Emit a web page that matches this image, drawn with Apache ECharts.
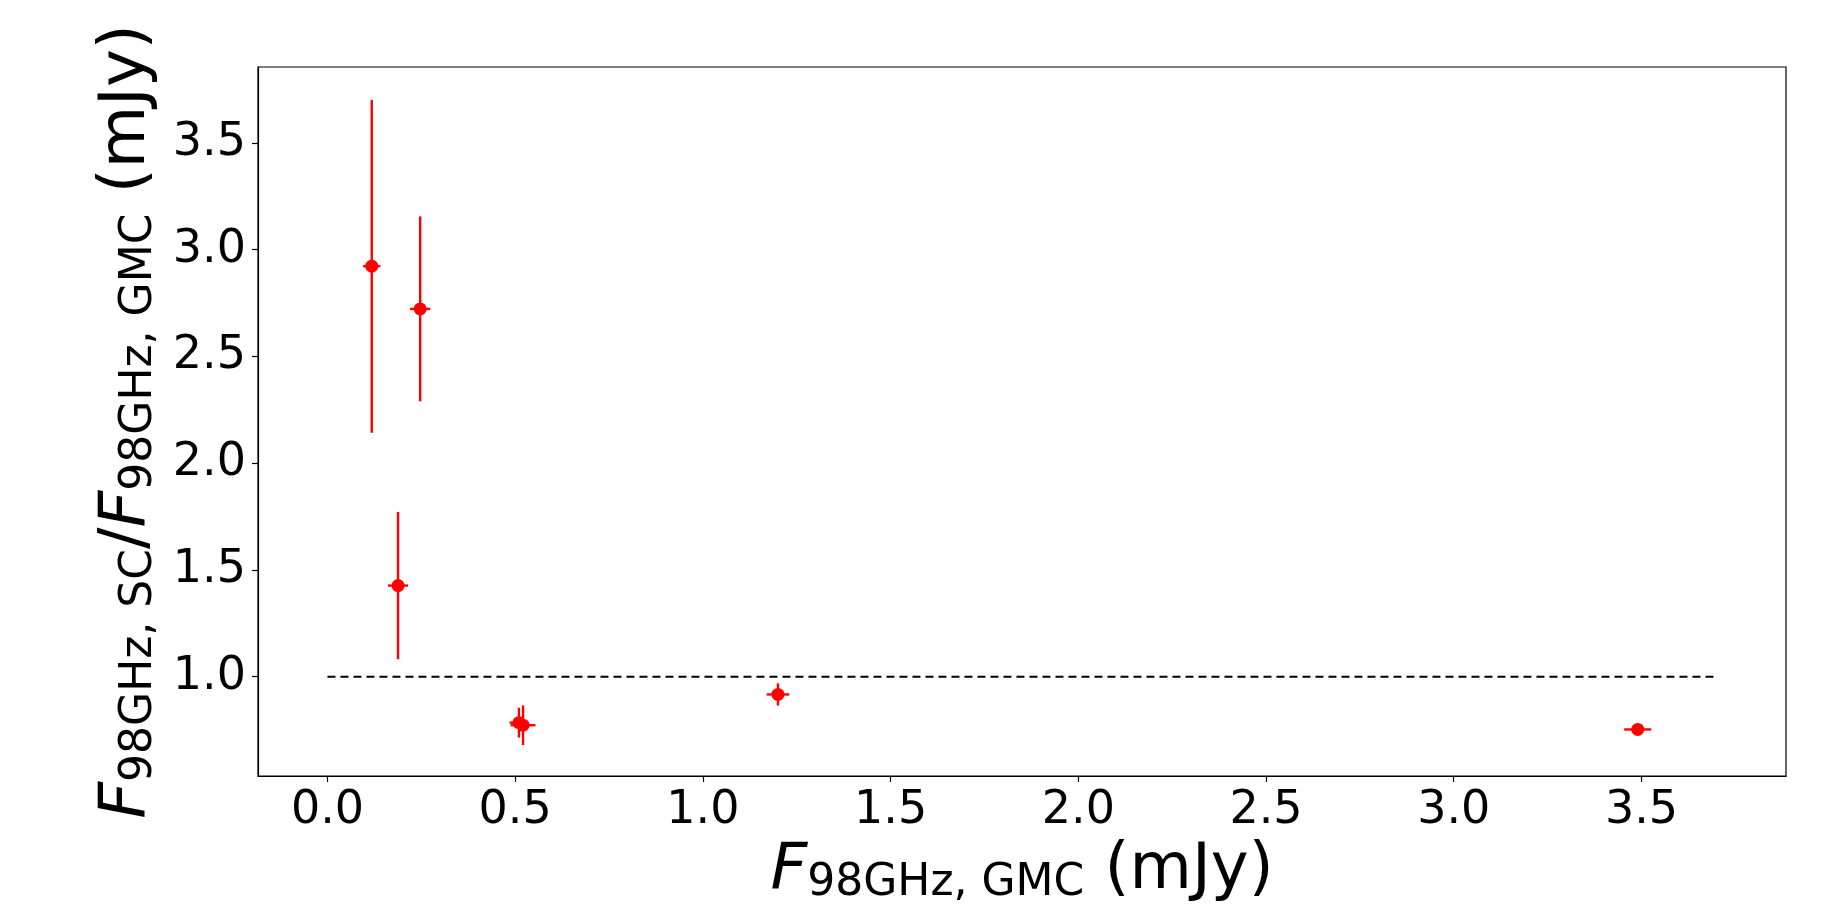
<!DOCTYPE html>
<html>
<head>
<meta charset="utf-8">
<title>F98GHz SC / GMC</title>
<script src="https://cdn.jsdelivr.net/npm/echarts@6/dist/echarts.min.js"></script>
<style>
  html, body { margin: 0; padding: 0; background: #fff; }
  #chart { width: 1829px; height: 914px; }
</style>
</head>
<body>
<div id="chart"></div>
<script>
// F_98GHz,GMC (mJy) and the ratio SC/GMC, with symmetric errors
var xValues = [0.118, 0.247, 0.188, 0.510, 0.521, 1.200, 3.490];
var yValues = [2.923, 2.723, 1.427, 0.785, 0.773, 0.917, 0.753];
var xErrors = [0.023, 0.027, 0.027, 0.025, 0.033, 0.030, 0.036];
var yErrors = [0.780, 0.433, 0.345, 0.070, 0.093, 0.052, 0.008];

// reference line y = 1
var refLineX = [0, 3.7];
var refLineY = [1, 1];

var xTicks = [0.0, 0.5, 1.0, 1.5, 2.0, 2.5, 3.0, 3.5];
var yTicks = [1.0, 1.5, 2.0, 2.5, 3.0, 3.5];

var font = 'DejaVu Sans';

var points = xValues.map(function (x, i) { return [x, yValues[i]]; });
var errData = xValues.map(function (x, i) {
  return [x, yValues[i], xErrors[i], yErrors[i]];
});
var refLine = refLineX.map(function (x, i) { return [x, refLineY[i]]; });

var nameRich = {
  it: { fontFamily: font, fontStyle: 'italic', fontSize: 64, color: '#000' },
  sub: { fontFamily: font, fontSize: 44, color: '#000', padding: [26, 0, 0, 0] },
  n: { fontFamily: font, fontSize: 64, color: '#000' }
};

var chart = echarts.init(document.getElementById('chart'));

var option = {
  backgroundColor: '#fff',
  animation: false,
  grid: {
    left: 258, right: 43, top: 67, bottom: 138,
    show: true, borderColor: '#000', borderWidth: 1.2
  },
  xAxis: {
    type: 'value',
    min: -0.185,
    max: 3.885,
    name: '{it|F}{sub|98GHz, GMC}{n| (mJy)}',
    nameLocation: 'middle',
    nameGap: 58,
    nameTextStyle: { rich: nameRich },
    axisLine: { onZero: false, lineStyle: { color: '#000', width: 1.2 } },
    axisTick: { show: true, length: 6, lineStyle: { color: '#000', width: 1.2 }, customValues: xTicks },
    axisLabel: {
      customValues: xTicks,
      margin: 12,
      color: '#000',
      fontFamily: font,
      fontSize: 46,
      formatter: function (v) { return v.toFixed(1); }
    },
    splitLine: { show: false }
  },
  yAxis: {
    type: 'value',
    min: 0.535,
    max: 3.856,
    name: '{it|F}{sub|98GHz, SC}{n|/}{it|F}{sub|98GHz, GMC}{n| (mJy)}',
    nameLocation: 'middle',
    nameRotate: 90,
    nameGap: 66,
    nameTextStyle: { rich: nameRich },
    axisLine: { onZero: false, lineStyle: { color: '#000', width: 1.2 } },
    axisTick: { show: true, length: 6, lineStyle: { color: '#000', width: 1.2 }, customValues: yTicks },
    axisLabel: {
      customValues: yTicks,
      margin: 12,
      color: '#000',
      fontFamily: font,
      fontSize: 46,
      formatter: function (v) { return v.toFixed(1); }
    },
    splitLine: { show: false }
  },
  series: [
    {
      name: 'ref',
      type: 'line',
      data: refLine,
      symbol: 'none',
      lineStyle: { color: '#000', width: 2, type: [8, 5] },
      z: 1
    },
    {
      name: 'errors',
      type: 'custom',
      data: errData,
      renderItem: function (params, api) {
        var x = api.value(0), y = api.value(1);
        var dx = api.value(2), dy = api.value(3);
        var l = api.coord([x - dx, y]);
        var r = api.coord([x + dx, y]);
        var t = api.coord([x, y + dy]);
        var b = api.coord([x, y - dy]);
        var style = { stroke: '#ff0000', lineWidth: 2.4 };
        return {
          type: 'group',
          children: [
            { type: 'line', shape: { x1: l[0], y1: l[1], x2: r[0], y2: r[1] }, style: style },
            { type: 'line', shape: { x1: t[0], y1: t[1], x2: b[0], y2: b[1] }, style: style }
          ]
        };
      },
      z: 2
    },
    {
      name: 'points',
      type: 'scatter',
      data: points,
      symbol: 'circle',
      symbolSize: 13,
      itemStyle: { color: '#ff0000', opacity: 1 },
      z: 3
    }
  ]
};

chart.setOption(option);
</script>
</body>
</html>
